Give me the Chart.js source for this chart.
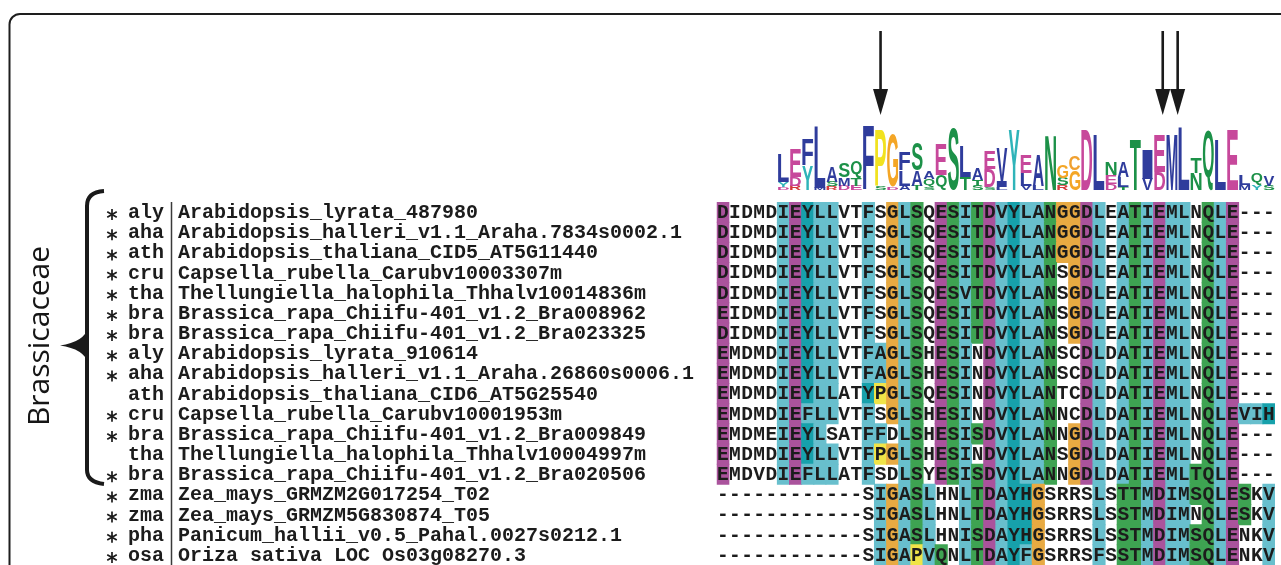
<!DOCTYPE html>
<html><head><meta charset="utf-8">
<script src="https://cdn.jsdelivr.net/npm/chart.js@4.4.1/dist/chart.umd.min.js"></script>
<style>html,body{margin:0;padding:0;background:#fff;overflow:hidden}#wrap{position:relative;width:1281px;height:565px}</style>
</head><body><div id="wrap"><canvas id="c"></canvas></div>
<script>
// ---------------- data ----------------
const groupLabel = 'Brassicaceae';
const abbrevs = ['aly','aha','ath','cru','tha','bra','bra','aly','aha','ath','cru','bra','tha','bra','zma','zma','pha','osa'];
const names = [
 'Arabidopsis_lyrata_487980',
 'Arabidopsis_halleri_v1.1_Araha.7834s0002.1',
 'Arabidopsis_thaliana_CID5_AT5G11440',
 'Capsella_rubella_Carubv10003307m',
 'Thellungiella_halophila_Thhalv10014836m',
 'Brassica_rapa_Chiifu-401_v1.2_Bra008962',
 'Brassica_rapa_Chiifu-401_v1.2_Bra023325',
 'Arabidopsis_lyrata_910614',
 'Arabidopsis_halleri_v1.1_Araha.26860s0006.1',
 'Arabidopsis_thaliana_CID6_AT5G25540',
 'Capsella_rubella_Carubv10001953m',
 'Brassica_rapa_Chiifu-401_v1.2_Bra009849',
 'Thellungiella_halophila_Thhalv10004997m',
 'Brassica_rapa_Chiifu-401_v1.2_Bra020506',
 'Zea_mays_GRMZM2G017254_T02',
 'Zea_mays_GRMZM5G830874_T05',
 'Panicum_hallii_v0.5_Pahal.0027s0212.1',
 'Oriza sativa LOC Os03g08270.3'
];
const starred = [1,1,1,1,1,1,1,1,1,0,1,1,0,1,1,1,1,1];
const sequences = [
 'DIDMDIEYLLVTFSGLSQESITDVYLANGGDLEATIEMLNQLE---',
 'DIDMDIEYLLVTFSGLSQESITDVYLANGGDLEATIEMLNQLE---',
 'DIDMDIEYLLVTFSGLSQESITDVYLANGGDLEATIEMLNQLE---',
 'DIDMDIEYLLVTFSGLSQESITDVYLANSGDLEATIEMLNQLE---',
 'DIDMDIEYLLVTFSGLSQESVTDVYLANSGDLEATIEMLNQLE---',
 'EIDMDIEYLLVTFSGLSQESITDVYLANSGDLEATIEMLNQLE---',
 'DIDMDIEYLLVTFSGLSQESITDVYLANSGDLEATIEMLNQLE---',
 'EMDMDIEYLLVTFAGLSHESINDVYLANSCDLDATIEMLNQLE---',
 'EMDMDIEYLLVTFAGLSHESINDVYLANSCDLDATIEMLNQLE---',
 'EMDMDIEYLLATYPGLSQESINDVYLANTCDLDATIEMLNQLE---',
 'EMDMDIEFLLVTFSGLSHESINDVYLANNCDLDATIEMLNQLEVIH',
 'EMDMEIEYLSATFFDLSHESISDVYLANNGDLDATIEMLNQLE---',
 'EMDMDIEYLLVTFPGLSHESINDVYLANSGDLDATIEMLNQLE---',
 'EMDVDIEFLLATFSDLSYESISDVYLANNGDLDATIEMLTQLE---',
 '------------SIGASLHNLTDAYHGSRRSLSTTMDIMSQLESKV',
 '------------SIGASLHNLTDAYHGSRRSLSSTMDIMNQLESKV',
 '------------SIGASLHNISDAYHGSRRSLSSTMDIMSQLENKV',
 '------------SIGAPVQNLTDAYFGSRRSFSSTMDIMSQLENKV'
];
// residues that are shaded in each alignment column
const coloredResidues = [
 'DE','','','','','I','E','YF','L','L',
 '','','FY','APIF','G','LA','SP','LV','EQ','S',
 'IVL','TS','D','VA','Y','LHF','AG','N','G','G',
 'D','LF','','ATS','T','IM','ED','MI','LM','ST',
 'Q','L','E','SV','I','VH'
];
// sequence logo (first logo column = alignment column 5), letters top -> bottom, heights in bits
const logoFirstColumn = 5;
const logoLetters = ['LYD','EDR','FY','LM','ASR','SMD','QTE','F','PS','GD','FLA','SAT','AQS','EQ','S','LT','ATS','EDS','VIL','Y',
 'ELV','AL','N','GSR','CG','D','L','NED','ALT','T','IV','ED','M','L','TN','Q','L','E','LM','QY','VS'];
const logoBits = [[1.9,0.35,0.2],[1.9,0.6,0.3],[1.7,1.65],[4.1,0.15],[1.0,0.3,0.25],[1.0,0.55,0.3],[1.1,0.5,0.3],[4.2],[3.75,0.25],[3.55,0.2],
 [1.2,1.0,0.3],[1.8,1.0,0.3],[0.55,0.55,0.2],[2.0,1.0],[4.1],[2.05,0.85],[0.8,0.4,0.3],[1.2,1.2,0.2],[2.2,0.4,0.2],[4.0],
 [1.2,0.85,0.3],[2.05,0.3],[3.6],[0.85,0.5,0.3],[1.0,1.35],[4.0],[3.7],[0.85,0.6,0.4],[1.05,0.65,0.2],[3.4],
 [2.0,0.75],[2.5,1.2],[3.75],[4.15],[1.0,1.15],[3.95],[3.35],[4.0],[0.65,0.35],[0.8,0.35],[0.7,0.3]];
const arrowPositions = [13.5, 36.75, 37.98];

// ---------------- styles ----------------
const cellPalette = {acid:'#aa539c', hyd:'#68bfcd', arom:'#17a1ab', polar:'#3ea352', gly:'#e8aa42', pro:'#f0e448', pos:'#d05050'};
const logoPalette = {acid:'#c7489b', hyd:'#2f3c9c', arom:'#2fb4b9', polar:'#1c9148', gly:'#f4a626', pro:'#f1e21f', pos:'#d23a3a', cys:'#f0a030'};
function resClass(ch){
  if ('DE'.includes(ch)) return 'acid';
  if ('YH'.includes(ch)) return 'arom';
  if ('AILMFVW'.includes(ch)) return 'hyd';
  if ('STNQ'.includes(ch)) return 'polar';
  if (ch==='G') return 'gly';
  if (ch==='P') return 'pro';
  if (ch==='C') return 'cys';
  return 'pos';
}
const ROWS = sequences.length, COLS = sequences[0].length;
const cellData = [], cellColors = [];
sequences.forEach((s, r) => {
  for (let c = 0; c < COLS; c++) {
    const ch = s[c];
    if (ch !== '-' && coloredResidues[c].includes(ch)) {
      cellData.push({x: c + 0.5, y: [r, r + 1]});
      cellColors.push(cellPalette[resClass(ch)]);
    }
  }
});

function drawFitGlyph(ctx, ch, x0, x1, yTop, yBot, color){
  const h = yBot - yTop; if (h < 0.4) return;
  ctx.save();
  ctx.font = 'bold 100px "Liberation Sans"';
  ctx.textAlign = 'left'; ctx.textBaseline = 'alphabetic';
  const m = ctx.measureText(ch);
  const gw = m.actualBoundingBoxLeft + m.actualBoundingBoxRight;
  const gh = m.actualBoundingBoxAscent + m.actualBoundingBoxDescent;
  ctx.translate(x0, yBot);
  ctx.scale((x1 - x0) / gw, h / gh);
  ctx.fillStyle = color;
  ctx.fillText(ch, m.actualBoundingBoxLeft, -m.actualBoundingBoxDescent);
  ctx.restore();
}

function drawAsterisk(ctx, cx, cy, r){
  ctx.beginPath();
  for (let k = 0; k < 3; k++) {
    const a = Math.PI / 2 + k * Math.PI / 3;
    ctx.moveTo(cx - r * Math.cos(a), cy - r * Math.sin(a));
    ctx.lineTo(cx + r * Math.cos(a), cy + r * Math.sin(a));
  }
  ctx.stroke();
}

const figurePlugin = {
  id: 'figure',
  afterDatasetsDraw(chart){
    const ctx = chart.ctx, xs = chart.scales.x, ys = chart.scales.y, yb = chart.scales.yb;
    // alignment letters
    ctx.save();
    ctx.font = 'bold 19.5px "Liberation Mono"';
    ctx.fillStyle = '#1c1c1c';
    ctx.textAlign = 'center'; ctx.textBaseline = 'middle';
    sequences.forEach((s, r) => {
      const yc = ys.getPixelForValue(r + 0.5) + 1;
      for (let c = 0; c < COLS; c++) ctx.fillText(s[c], xs.getPixelForValue(c + 0.5), yc);
    });
    ctx.restore();
    // row labels
    ctx.save();
    ctx.fillStyle = '#1c1c1c';
    ctx.textBaseline = 'middle'; ctx.textAlign = 'left';
    ctx.font = 'bold 20px "Liberation Mono"';
    for (let r = 0; r < ROWS; r++) {
      const yc = ys.getPixelForValue(r + 0.5) + 1;
      ctx.fillText(abbrevs[r], 128, yc);
      ctx.fillText(names[r], 178, yc);
    }
    // asterisks
    ctx.strokeStyle = '#1c1c1c'; ctx.lineWidth = 1.7; ctx.lineCap = 'butt';
    for (let r = 0; r < ROWS; r++) {
      if (!starred[r]) continue;
      drawAsterisk(ctx, 112, ys.getPixelForValue(r + 0.5) + 2.5, 5.5);
    }
    ctx.restore();
    // separator line
    ctx.save();
    ctx.strokeStyle = '#3a3a3a'; ctx.lineWidth = 1.5;
    ctx.beginPath(); ctx.moveTo(171.5, ys.getPixelForValue(0)); ctx.lineTo(171.5, ys.getPixelForValue(ROWS)); ctx.stroke();
    ctx.restore();
    // sequence logo
    logoLetters.forEach((letters, i) => {
      const col = logoFirstColumn + i;
      const x0 = xs.getPixelForValue(col) + 0.6, x1 = xs.getPixelForValue(col + 1) - 0.6;
      let acc = 0;
      const bits = logoBits[i];
      for (let k = letters.length - 1; k >= 0; k--) {
        const yBot = yb.getPixelForValue(acc);
        acc += bits[k];
        const yTop = yb.getPixelForValue(acc);
        drawFitGlyph(ctx, letters[k], x0, x1, yTop, yBot, logoPalette[resClass(letters[k])]);
      }
    });
    // arrows
    ctx.save();
    ctx.fillStyle = '#1a1a1a'; ctx.strokeStyle = '#1a1a1a'; ctx.lineWidth = 2.6;
    arrowPositions.forEach(p => {
      const x = xs.getPixelForValue(p);
      ctx.beginPath(); ctx.moveTo(x, 31); ctx.lineTo(x, 95); ctx.stroke();
      ctx.beginPath(); ctx.moveTo(x - 7.5, 89); ctx.lineTo(x + 7.5, 89); ctx.lineTo(x, 115); ctx.closePath(); ctx.fill();
    });
    ctx.restore();
    // brace
    ctx.save();
    ctx.strokeStyle = '#1a1a1a'; ctx.fillStyle = '#1a1a1a'; ctx.lineWidth = 4;
    ctx.beginPath();
    ctx.moveTo(104, 191);
    ctx.quadraticCurveTo(87, 192, 87, 206);
    ctx.lineTo(87, 470);
    ctx.quadraticCurveTo(87, 482, 104, 484);
    ctx.stroke();
    ctx.beginPath();
    ctx.moveTo(88, 328);
    ctx.quadraticCurveTo(84, 342, 60, 345.5);
    ctx.quadraticCurveTo(84, 349, 88, 363);
    ctx.closePath(); ctx.fill();
    ctx.restore();
    // group label
    ctx.save();
    ctx.translate(49, 336); ctx.rotate(-Math.PI / 2);
    ctx.font = '30px "Open Sans"'; ctx.fillStyle = '#161616';
    ctx.textAlign = 'center'; ctx.textBaseline = 'alphabetic';
    ctx.fillText(groupLabel, 0, 0);
    ctx.restore();
    // frame
    ctx.save();
    ctx.strokeStyle = '#1e1e1e'; ctx.lineWidth = 2;
    ctx.beginPath();
    ctx.moveTo(1300, 14); ctx.lineTo(20, 14); ctx.arcTo(9.5, 14, 9.5, 24, 10.5); ctx.lineTo(9.5, 600);
    ctx.stroke();
    ctx.restore();
  }
};

new Chart(document.getElementById('c'), {
  type: 'bar',
  data: { datasets: [{ data: cellData, backgroundColor: cellColors, borderWidth: 0, borderSkipped: false,
    barPercentage: 1, categoryPercentage: 1, inflateAmount: 0.5, xAxisID: 'x', yAxisID: 'y' }] },
  options: {
    responsive: true, maintainAspectRatio: false, animation: false,
    layout: { padding: { left: 716.7, right: 6, top: 202, bottom: 0 } },
    scales: {
      x: { type: 'linear', min: 0, max: COLS, display: false, offset: false },
      y: { type: 'linear', min: 0, max: ROWS, reverse: true, display: false },
      yb: { type: 'linear', axis: 'y', min: -25, max: -0.8, display: false }
    },
    plugins: { legend: { display: false }, tooltip: { enabled: false } },
    events: []
  },
  plugins: [figurePlugin]
});
</script>
</body></html>
